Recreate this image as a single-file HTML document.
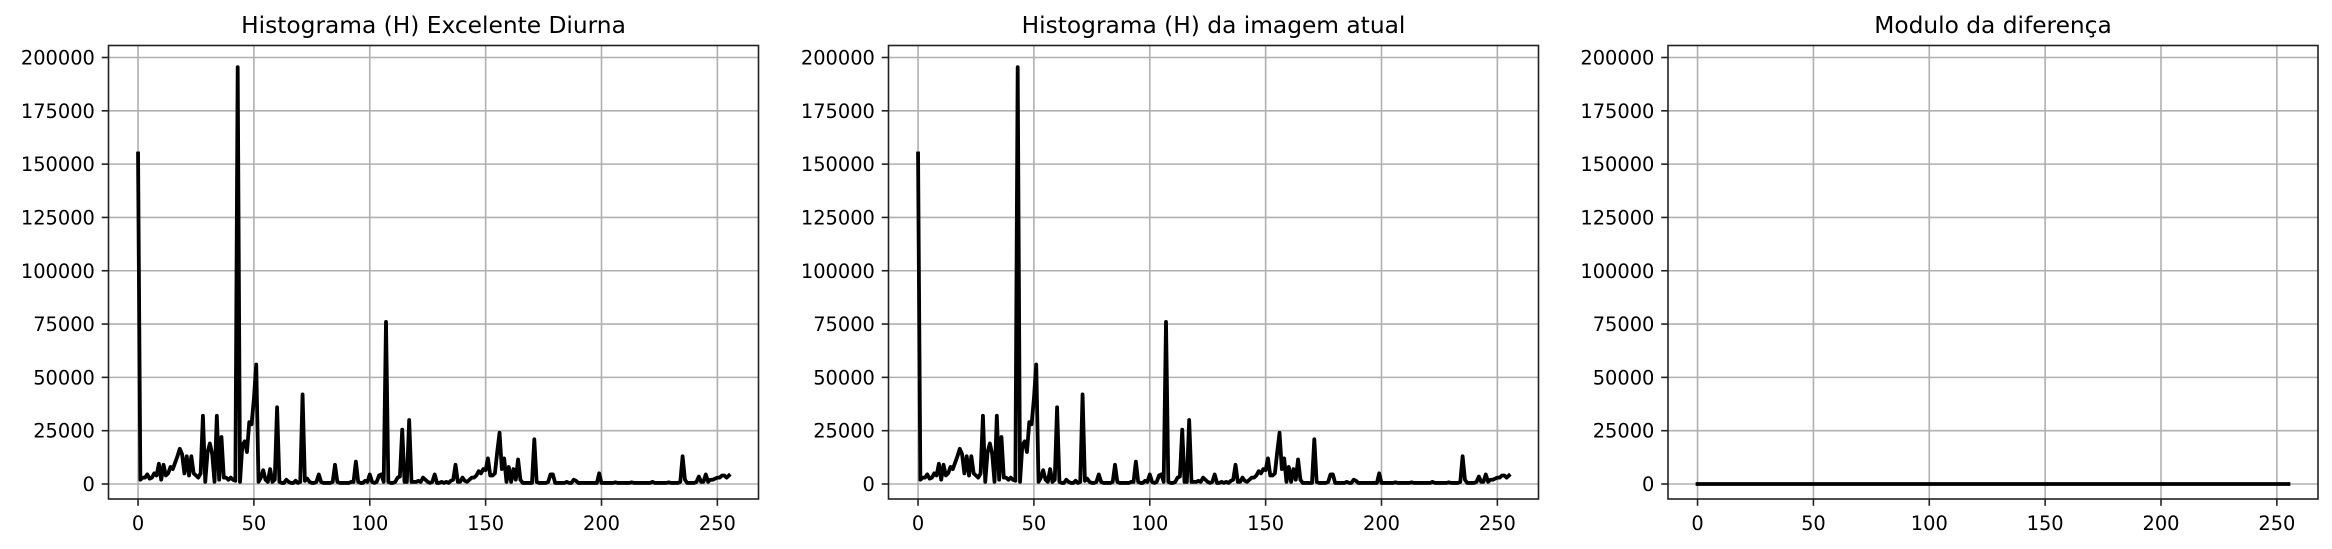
<!DOCTYPE html>
<html><head><meta charset="utf-8">
<style>
html,body{margin:0;padding:0;background:#fff;}
svg{display:block;font-family:"DejaVu Sans","Liberation Sans",sans-serif;}
</style></head>
<body>
<svg id="fig" width="2332" height="549" viewBox="0 0 2332 549" xmlns="http://www.w3.org/2000/svg"></svg>
<script>
const histBins = Array.from({length:256},(_, i)=>i);
const histExcelente = [
155000,2000,3000,3000,4500,2500,3000,5000,4000,9500,
2000,9000,4000,5000,8000,7000,10000,13000,16500,14000,
5000,13000,4000,13000,5000,4000,3000,5000,32000,1000,
15000,19000,14000,1000,32000,2000,22000,3000,3000,2000,
3000,2000,1500,195500,1000,18000,20000,15000,29000,28000,
40000,56000,1000,3000,6500,2000,1000,7000,1000,2000,
36000,1000,500,500,2000,1000,500,500,1500,500,
1000,42000,1500,2500,1000,500,500,1000,4500,1000,
500,500,500,500,1000,9000,1000,500,500,500,
500,500,1000,1000,10500,1000,500,500,1500,1000,
4500,1000,500,1000,4000,4500,1000,76000,1000,500,
500,1000,3000,3500,25500,1000,1000,30000,1000,1000,
1000,1500,1000,3000,2000,1000,500,1000,4500,500,
500,1000,500,1000,500,1500,2000,9000,1000,1000,
3000,1500,1000,2000,3000,3000,4000,6000,5000,7000,
6500,12000,4000,4000,5000,15000,24000,7000,12000,1000,
8000,1000,7000,2000,11500,2000,500,500,500,500,
500,21000,1000,500,500,500,500,1000,4500,4500,
500,500,500,500,500,1000,500,500,2000,1500,
500,500,500,500,500,500,500,500,500,5000,
500,500,500,500,500,500,800,500,500,500,
500,500,500,800,500,500,500,500,500,500,
500,500,1000,500,500,500,500,500,500,800,
500,500,500,500,1000,13000,2000,500,500,500,
500,1000,3500,1000,1000,4500,1000,2000,2000,2500,
3000,3000,4000,4000,3000,4000];
const histAtual = histExcelente.slice();
const histDiff = histExcelente.map((v,i)=>Math.abs(v-histAtual[i]));
const panelTitles = ["Histograma (H) Excelente Diurna","Histograma (H) da imagem atual","Modulo da diferença"];
const xTicks = [0,50,100,150,200,250];
const yTicks = [0,25000,50000,75000,100000,125000,150000,175000,200000];
const seriesList = [histExcelente, histAtual, histDiff];

const NS="http://www.w3.org/2000/svg";
const svg=document.getElementById('fig');
function mk(tag,attrs,parent){const e=document.createElementNS(NS,tag);for(const k in attrs)e.setAttribute(k,attrs[k]);(parent||svg).appendChild(e);return e;}

const lefts=[108.5,888.5,1668];
const W=650, axTop=45.5, axBottom=499;
const xMin=-12.75, xMax=267.75;
const y0px=484, y200px=57.5;

seriesList.forEach((series,p)=>{
  const L=lefts[p];
  const g=mk('g',{});
  
  
  const xs=v=>L+(v-xMin)/(xMax-xMin)*W;
  const ys=v=>y0px-(v/200000)*(y0px-y200px);
  xTicks.forEach(t=>{
    const l=mk('line',{x1:xs(t),x2:xs(t),y1:axTop,y2:axBottom,stroke:'#b0b0b0','stroke-width':1.6},g);
    
    
  });
  yTicks.forEach(t=>{
    const l=mk('line',{x1:L,x2:L+W,y1:ys(t),y2:ys(t),stroke:'#b0b0b0','stroke-width':1.6},g);
    
    
  });
  const d=series.map((v,i)=>(i?'L':'M')+xs(histBins[i]).toFixed(2)+' '+ys(v).toFixed(2)).join(' ');
  const path=mk('path',{d:d,fill:'none',stroke:'#000','stroke-width':3.8,'stroke-linejoin':'round','stroke-linecap':'square'},g);
  
  
  const r=mk('rect',{x:L,y:axTop,width:W,height:axBottom-axTop,fill:'none',stroke:'#222','stroke-width':1.6},g);
  
  
  xTicks.forEach(t=>{
    const tk=mk('line',{x1:xs(t),x2:xs(t),y1:axBottom,y2:axBottom+6.8,stroke:'#222','stroke-width':1.6},g);
    
    
    const tx=mk('text',{x:xs(t),y:530,'text-anchor':'middle','font-size':19.4,fill:'#000'},g);
    tx.textContent=t;
    
    
  });
  yTicks.forEach(t=>{
    const tk=mk('line',{x1:L-6.8,x2:L,y1:ys(t),y2:ys(t),stroke:'#222','stroke-width':1.6},g);
    
    
    const tx=mk('text',{x:L-13.6,y:ys(t)+7,'text-anchor':'end','font-size':19.4,fill:'#000'},g);
    tx.textContent=t;
    
    
  });
  const ti=mk('text',{x:L+W/2,y:33,'text-anchor':'middle','font-size':23.3,fill:'#000'},g);
  ti.textContent=panelTitles[p];
  
  
});
</script>
</body></html>
